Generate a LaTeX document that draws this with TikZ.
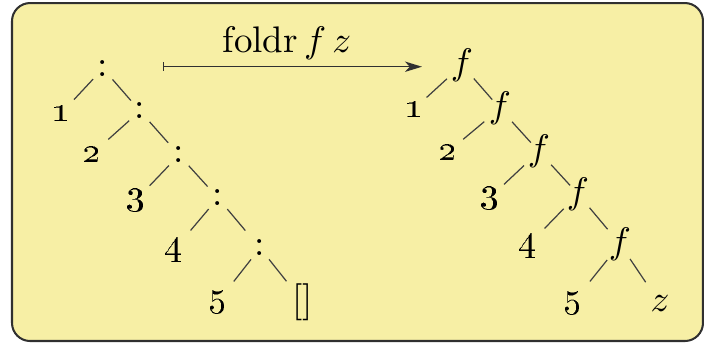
\documentclass[tikz,border=0pt]{standalone}
\usetikzlibrary{calc,arrows.meta}
\definecolor{bgyellow}{HTML}{F7EFA5}
\definecolor{framegray}{HTML}{303030}
\definecolor{linegray}{HTML}{404040}
\newcommand\tline[4]{\draw[conn] ($(#1)!#3!(#2)$) -- ($(#1)!#4!(#2)$);}
\begin{document}
\begin{tikzpicture}[x=0.2703pt,y=-0.2703pt,
  lab/.style={inner sep=0pt, outer sep=0pt},
  conn/.style={draw=linegray, line width=0.33pt},
  arr/.style={draw=framegray, line width=0.4pt,
    {Bar[width=2.3pt]}-{Stealth[length=4.6pt,width=2.8pt,inset=1.3pt]}}]
\useasboundingbox (0,0) rectangle (704,342);
\draw[fill=bgyellow, draw=framegray, line width=0.55pt, rounded corners=4.9pt] (12,3) rectangle (703,341);

% left tree
\node[lab] (c1) at (103,68.5) {:};
\node[lab] (c2) at (140,111) {:};
\node[lab] (c3) at (179,155) {:};
\node[lab] (c4) at (218,198) {:};
\node[lab] (c5) at (260,248) {:};
\node[lab] (l1) at (61,113.5) {\oldstylenums{1}};
\node[lab] (l2) at (92,154) {\oldstylenums{2}};
\node[lab] (l3) at (136,200) {\oldstylenums{3}};
\node[lab] (l4) at (174,250) {\oldstylenums{4}};
\node[lab] (l5) at (218,301.5) {\oldstylenums{5}};
\node[lab] (nil) at (303,302) {[]};
\tline{c1}{l1}{3.92pt}{11.49pt}
\tline{c1}{c2}{3.92pt}{11.49pt}
\tline{c2}{l2}{3.92pt}{11.49pt}
\tline{c2}{c3}{3.92pt}{11.49pt}
\tline{c3}{l3}{3.92pt}{11.49pt}
\tline{c3}{c4}{3.92pt}{11.49pt}
\tline{c4}{l4}{3.92pt}{11.49pt}
\tline{c4}{c5}{3.92pt}{11.49pt}
\tline{c5}{l5}{3.92pt}{11.49pt}
\tline{c5}{nil}{3.92pt}{11.49pt}

% right tree
\node[lab] (f1) at (462,65) {$f$};
\node[lab] (f2) at (500,108.5) {$f$};
\node[lab] (f3) at (539,151.5) {$f$};
\node[lab] (f4) at (578,194) {$f$};
\node[lab] (f5) at (620,244) {$f$};
\node[lab] (r1) at (414,109) {\oldstylenums{1}};
\node[lab] (r2) at (448,152) {\oldstylenums{2}};
\node[lab] (r3) at (490,197.5) {\oldstylenums{3}};
\node[lab] (r4) at (528,245.5) {\oldstylenums{4}};
\node[lab] (r5) at (573,302.5) {\oldstylenums{5}};
\node[lab] (z) at (660,303.5) {$z$};
\tline{f1}{r1}{5.54pt}{12.97pt}
\tline{f1}{f2}{4.87pt}{12.43pt}
\tline{f2}{r2}{5.54pt}{12.97pt}
\tline{f2}{f3}{4.87pt}{12.43pt}
\tline{f3}{r3}{5.54pt}{12.97pt}
\tline{f3}{f4}{4.87pt}{12.43pt}
\tline{f4}{r4}{5.54pt}{12.97pt}
\tline{f4}{f5}{4.87pt}{12.43pt}
\tline{f5}{r5}{5.54pt}{12.97pt}
\tline{f5}{z}{4.87pt}{12.43pt}

% arrow
\coordinate (as) at (163,66.7);
\coordinate (ae) at (422,66.7);
\draw[arr] (as) -- (ae);
\node[lab, anchor=base] (lbl) at (287,52) {foldr\,$f\,z$};
\end{tikzpicture}
\end{document}
